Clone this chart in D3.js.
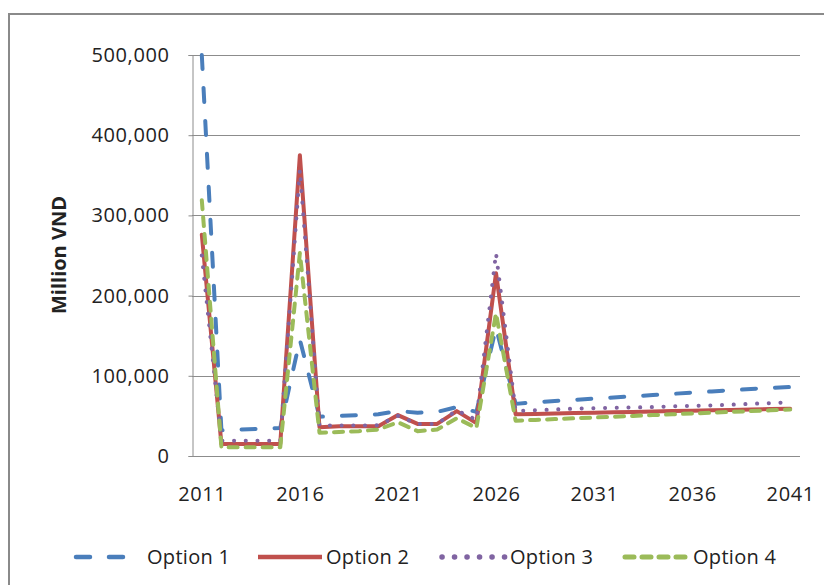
<!DOCTYPE html>
<meta charset="utf-8">
<style>
    html, body { margin: 0; background: #fff; }
    text { font-family: "Open Sans", sans-serif; fill: #222; }
    .grid line { stroke: #8c8c8c; stroke-width: 1px; }
    .axis path, .axis line { stroke: #8c8c8c; }
    .series { fill: none; stroke-width: 4px; stroke-linecap: round; stroke-linejoin: round; }
</style>
<body>
<script src="https://d3js.org/d3.v7.min.js"></script>
<script>

    // years on the category axis
    var years = d3.range(2011, 2042);
    var yearTicks = [2011, 2016, 2021, 2026, 2031, 2036, 2041];
    var valueTicks = [0, 100000, 200000, 300000, 400000, 500000];

    // values, Million VND
    var option1 = [500000, 32000, 33000, 34000, 35000, 145000, 49000, 50000, 51000, 52000,
        56000, 54000, 55000, 61000, 55000, 160000, 65000, 67000, 68500, 70000,
        71500, 73000, 74500, 76000, 77500, 79000, 80500, 82000, 83500, 85000, 86000];
    var option2 = [276000, 15000, 15000, 15000, 15000, 375000, 36000, 37000, 37000, 37000,
        51000, 40000, 40000, 56000, 41000, 228000, 52000, 52500, 53000, 53500,
        54000, 54500, 55000, 55500, 56000, 56500, 57000, 57500, 58000, 58500, 59000];
    var option3 = [250000, 19000, 19000, 19000, 19000, 357000, 38000, 38000, 38000, 38500,
        50000, 40000, 40000, 57000, 45000, 253000, 56000, 57000, 58000, 59000,
        59500, 60000, 60500, 61000, 62000, 62500, 63000, 64000, 65000, 66000, 67000];
    var option4 = [319000, 11000, 11000, 11000, 11000, 253000, 29000, 30000, 31000, 33000,
        42000, 31000, 33000, 47000, 35000, 178000, 44000, 45000, 46000, 47000,
        48000, 49000, 50000, 51000, 52000, 53000, 54000, 55000, 56000, 57000, 58000];

    var seriesNames = ["Option 1", "Option 2", "Option 3", "Option 4"];
    var seriesValues = [option1, option2, option3, option4];
    var colors = ["#4a7ebb", "#c0504d", "#8064a2", "#9bbb59"];
    var dashes = ["14,19", null, "0.1,11.6", "9,8"];
    var widths = [4.5, 4.5, 5.5, 5];

    var width = 824,
        height = 585,
        plotLeft = 192, plotRight = 800, plotTop = 55, plotBottom = 456;

    var svg = d3.select("body").append("svg")
        .attr("width", width)
        .attr("height", height);

    // outer chart frame
    svg.append("rect")
        .attr("x", 9).attr("y", 14)
        .attr("width", 830).attr("height", 600)
        .attr("fill", "none")
        .attr("stroke", "#8a8a8a")
        .attr("stroke-width", 2);

    var x = d3.scalePoint()
        .domain(years)
        .range([plotLeft, plotRight])
        .padding(0.5);

    var y = d3.scaleLinear()
        .domain([0, 500000])
        .range([plotBottom, plotTop]);

    // horizontal gridlines
    svg.append("g")
        .attr("class", "grid")
        .selectAll("line")
        .data(valueTicks)
        .enter().append("line")
        .attr("x1", plotLeft).attr("x2", plotRight)
        .attr("y1", function (d) { return Math.round(y(d)) + 0.5; })
        .attr("y2", function (d) { return Math.round(y(d)) + 0.5; });

    var yAxis = svg.append("g")
        .attr("class", "axis")
        .attr("transform", "translate(" + (plotLeft + 0.5) + ",0)")
        .call(d3.axisLeft(y).tickValues(valueTicks).tickFormat(d3.format(",")).tickSize(4).tickPadding(19));
    yAxis.selectAll("text").style("font-size", "20px").attr("fill", "#222").attr("letter-spacing", "0.6px");

    var xAxis = svg.append("g")
        .attr("class", "axis")
        .attr("transform", "translate(0," + (plotBottom + 0.5) + ")")
        .call(d3.axisBottom(x).tickValues(yearTicks).tickSize(0).tickPadding(30));
    xAxis.select(".domain").attr("d", "M" + plotLeft + ",0H" + plotRight);
    xAxis.selectAll("text").style("font-size", "20px").attr("fill", "#222").attr("letter-spacing", "0.6px");

    svg.append("text")
        .attr("transform", "translate(66,255) rotate(-90)")
        .attr("text-anchor", "middle")
        .style("font-size", "20px")
        .style("font-weight", "bold")
        .text("Million VND");

    var line = d3.line()
        .x(function (d, i) { return x(years[i]); })
        .y(function (d) { return y(d); });

    svg.selectAll(".series")
        .data(seriesValues)
        .enter().append("path")
        .attr("class", "series")
        .attr("d", line)
        .attr("stroke", function (d, i) { return colors[i]; })
        .attr("stroke-width", function (d, i) { return widths[i]; })
        .attr("stroke-dasharray", function (d, i) { return dashes[i]; })
        .attr("stroke-linecap", function (d, i) { return i === 1 ? "butt" : "round"; });

    // legend
    var legendX = [[76, 128, 147], [258, 322, 326], [442, 505, 510], [625, 689, 693]];
    var legend = svg.append("g").attr("transform", "translate(0,557)");
    seriesNames.forEach(function (name, i) {
        legend.append("line")
            .attr("x1", legendX[i][0]).attr("x2", legendX[i][1])
            .attr("y1", 0).attr("y2", 0)
            .attr("stroke", colors[i])
            .attr("stroke-width", widths[i])
            .attr("stroke-dasharray", i === 0 ? "14,19" : i === 2 ? "0.1,12.4" : dashes[i])
            .attr("stroke-linecap", i === 1 ? "butt" : "round");
        legend.append("text")
            .attr("x", legendX[i][2])
            .attr("dy", "0.35em")
            .style("font-size", "20px")
            .attr("letter-spacing", "0.3px")
            .text(name);
    });

</script>
</body>
